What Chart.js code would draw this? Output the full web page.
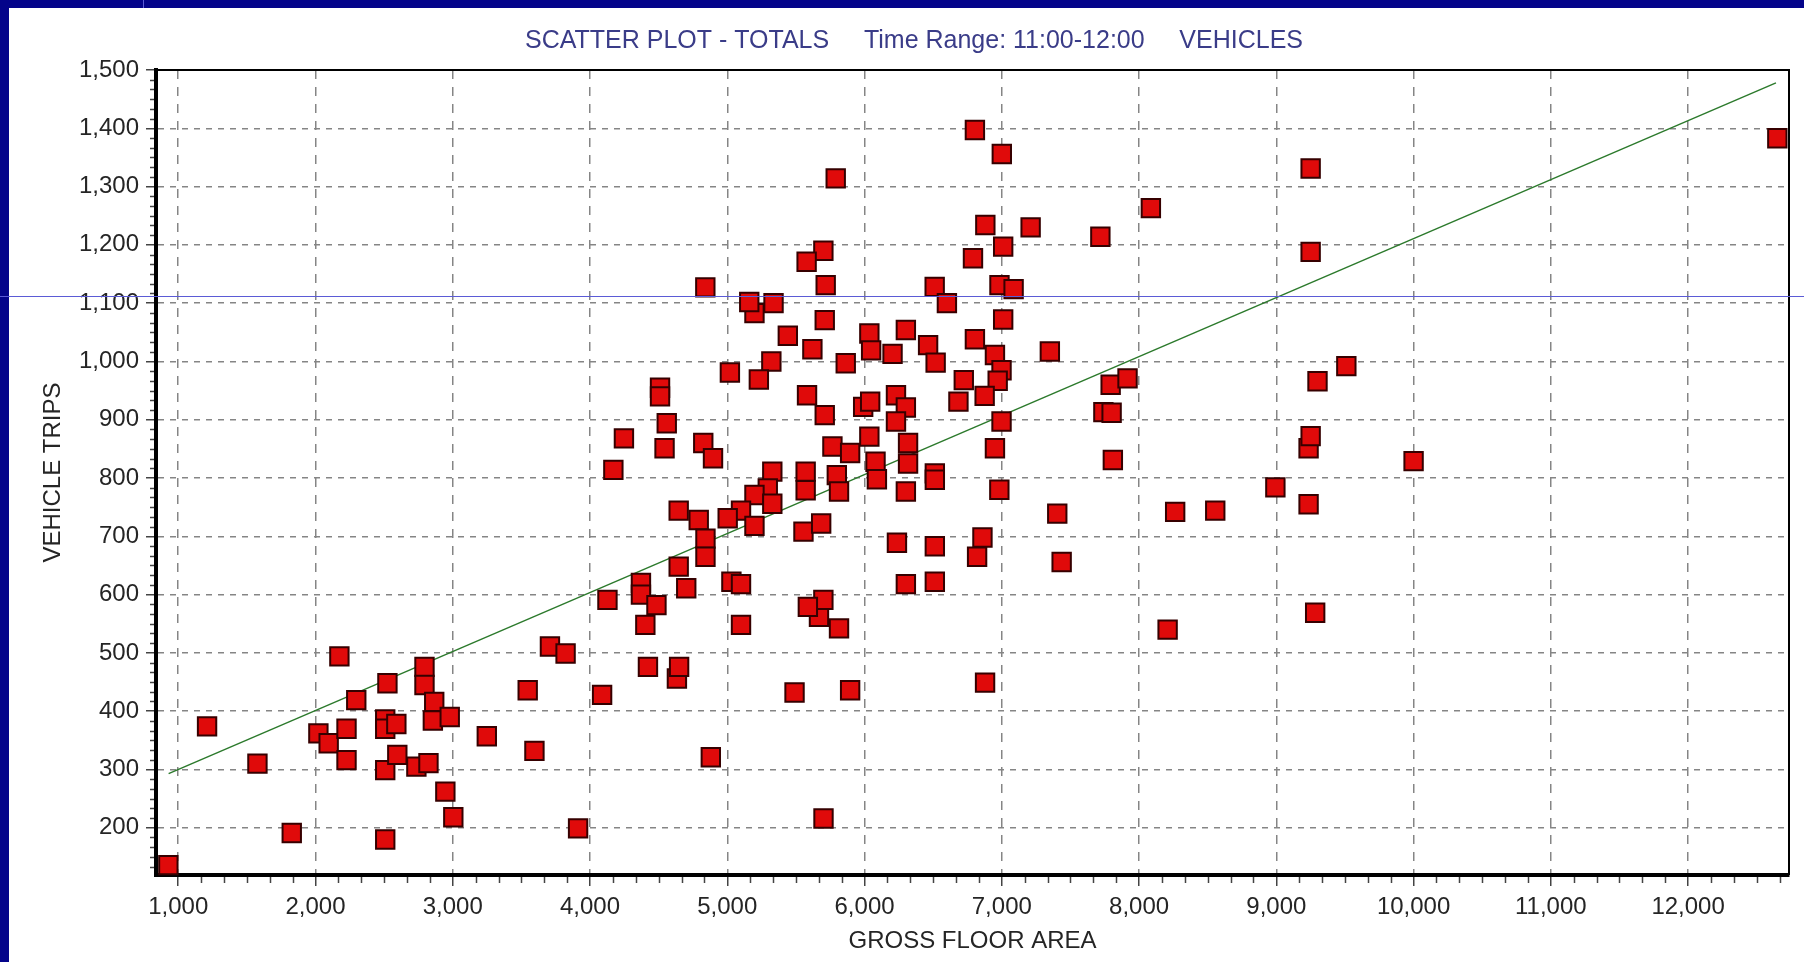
<!DOCTYPE html>
<html>
<head>
<meta charset="utf-8">
<script src="https://cdn.jsdelivr.net/npm/chart.js@4.4.0/dist/chart.umd.min.js"></script>
<style>
  html, body { margin: 0; padding: 0; background: #04048a; overflow: hidden; }
  .chart-box { position: relative; width: 1804px; height: 962px; }
</style>
</head>
<body>
<div class="chart-box"><canvas id="scatterChart"></canvas></div>
<script>
// * data
const grossFloorArea = [
  928, 1210, 1577, 1827, 2174, 2021, 2096, 2226, 2226, 2297,
  2524, 2508, 2508, 2589, 2508, 2596, 2508, 2735, 2823, 2794,
  2794, 2865, 2855, 2978, 2946, 3004, 3248, 3546, 3595, 3708,
  3822, 3913, 4088, 4422, 4633, 4649, 4403, 5100, 5814, 5668,
  8208, 5490, 5895, 6878, 4880, 5701, 5198, 5710, 5441, 6035,
  6301, 5620, 6048, 6204, 6463, 6518, 6804, 6950, 6998, 6970,
  7350, 5863, 5321, 5019, 5230, 6723, 6684, 6875, 4510, 4510,
  4559, 4247, 4543, 4825, 4896, 4170, 5581, 5710, 5990, 6041,
  6229, 6301, 6229, 7793, 7916, 7740, 7800, 6998, 6950, 7809,
  5766, 5895, 6035, 6080, 6090, 6317, 6317, 6512, 6512, 6301,
  6982, 5328, 5571, 5798, 5814, 5571, 5295, 5198, 5328, 5100,
  5003, 5198, 4646, 4792, 4841, 4841, 4646, 4701, 4371, 4371,
  4127, 4484, 5030, 5100, 5555, 5684, 6236, 6512, 6859, 6820,
  6301, 6512, 7404, 7436, 8263, 8555, 8993, 5700, 5587, 7010,
  6804, 7000, 5790, 8086, 6880, 7210, 7718, 7010, 6790, 4840,
  5160, 5337, 5700, 5578, 5717, 6511, 6600, 6983, 7086, 9250,
  9250, 12650, 9235, 9235, 9250, 9300, 9510, 10000, 9283
];
const vehicleTrips = [
  136, 374, 310, 191, 494, 362, 345, 370, 316, 419,
  448, 386, 370, 378, 299, 325, 180, 305, 311, 476,
  445, 416, 384, 390, 262, 218, 357, 436, 332, 511,
  499, 199, 428, 476, 456, 476, 548, 548, 542, 562,
  540, 432, 436, 449, 321, 216, 1083, 1071, 1044, 1048,
  1054, 1021, 1019, 1013, 1028, 998, 1038, 1011, 985, 967,
  1017, 997, 1000, 981, 969, 968, 931, 941, 955, 940,
  894, 868, 851, 860, 834, 814, 942, 908, 922, 931,
  942, 921, 897, 960, 971, 913, 912, 897, 851, 831,
  854, 843, 871, 828, 798, 860, 825, 808, 797, 777,
  780, 811, 811, 805, 777, 779, 782, 771, 756, 744,
  731, 718, 744, 728, 696, 665, 648, 611, 620, 600,
  591, 582, 622, 618, 708, 722, 689, 683, 698, 665,
  618, 622, 739, 656, 742, 744, 784, 591, 579, 1072,
  1397, 1356, 1314, 1263, 1234, 1230, 1214, 1197, 1177, 1127,
  1102, 1100, 1190, 1171, 1131, 1128, 1100, 1131, 1124, 1331,
  1188, 1383, 755, 851, 872, 966, 992, 829, 569
];
// ? fitted line end points
const trendX = [930, 12640];
const trendY = [293, 1478];

const xTicks = [1000, 2000, 3000, 4000, 5000, 6000, 7000, 8000, 9000, 10000, 11000, 12000];
const yTicks = [200, 300, 400, 500, 600, 700, 800, 900, 1000, 1100, 1200, 1300, 1400, 1500];

const titleText = "SCATTER PLOT - TOTALS     Time Range: 11:00-12:00     VEHICLES";

const points = grossFloorArea.map((x, i) => ({ x: x, y: vehicleTrips[i] }));
const trend = trendX.map((x, i) => ({ x: x, y: trendY[i] }));

const family = "'Liberation Sans', Arial, sans-serif";

// * navy slide frame, plot border, minor ticks
const framePlugin = {
  id: "frame",
  beforeDraw(chart) {
    const ctx = chart.ctx;
    ctx.save();
    ctx.fillStyle = "#04048a";
    ctx.fillRect(0, 0, chart.width, chart.height);
    ctx.fillStyle = "#ffffff";
    ctx.fillRect(9, 8, chart.width - 9, chart.height - 8);
    ctx.restore();
  },
  afterDraw(chart) {
    const ctx = chart.ctx;
    const a = chart.chartArea;
    const sx = chart.scales.x;
    const sy = chart.scales.y;
    ctx.save();
    ctx.strokeStyle = "#000000";
    ctx.lineWidth = 2;
    ctx.beginPath();
    ctx.moveTo(a.left, a.top);
    ctx.lineTo(a.right, a.top);
    ctx.lineTo(a.right, a.bottom);
    ctx.stroke();

    ctx.strokeStyle = "#444444";
    ctx.lineWidth = 1.5;
    ctx.beginPath();
    const xStep = 1000 / 6;
    for (let k = Math.ceil(sx.min / xStep); k * xStep <= sx.max; k++) {
      if (k % 6 === 0) continue;
      const px = Math.round(sx.getPixelForValue(k * xStep)) + 0.5;
      ctx.moveTo(px, a.bottom + 2);
      ctx.lineTo(px, a.bottom + 8);
    }
    const yStep = 100 / 6;
    for (let k = Math.ceil(sy.min / yStep); k * yStep <= sy.max; k++) {
      if (k % 6 === 0) continue;
      const py = Math.round(sy.getPixelForValue(k * yStep)) + 0.5;
      ctx.moveTo(a.left - 2, py);
      ctx.lineTo(a.left - 6, py);
    }
    ctx.stroke();

    // slide guide lines
    ctx.strokeStyle = "#5b5bd6";
    ctx.lineWidth = 1;
    ctx.beginPath();
    ctx.moveTo(0, 296.5);
    ctx.lineTo(chart.width, 296.5);
    ctx.moveTo(143.5, 0);
    ctx.lineTo(143.5, 8);
    ctx.stroke();
    ctx.restore();
  },
};

const scatterChart = new Chart(document.getElementById("scatterChart"), {
  type: "scatter",
  data: {
    datasets: [
      {
        label: "Vehicle trips",
        data: points,
        pointStyle: "rect",
        pointRadius: 13,
        pointHoverRadius: 13,
        backgroundColor: "#e00a0a",
        borderColor: "#360000",
        borderWidth: 2,
        clip: false,
      },
      {
        type: "line",
        label: "Fitted",
        data: trend,
        borderColor: "#2c7a2c",
        borderWidth: 1.5,
        pointRadius: 0,
        fill: false,
        clip: false,
      },
    ],
  },
  options: {
    responsive: true,
    maintainAspectRatio: false,
    animation: false,
    layout: { padding: { left: 35, top: 8, right: 11, bottom: 0 } },
    plugins: {
      legend: { display: false },
      tooltip: { enabled: false },
      title: {
        display: true,
        text: titleText,
        color: "#3a3c88",
        font: { family: family, size: 25, weight: "normal" },
        padding: { top: 18, bottom: 14 },
      },
    },
    scales: {
      x: {
        type: "linear",
        min: 838,
        max: 12735,
        afterBuildTicks: (s) => { s.ticks = xTicks.map((v) => ({ value: v })); },
        afterFit: (s) => { s.height = 87; },
        ticks: {
          color: "#252525",
          font: { family: family, size: 24 },
          padding: 7,
          maxRotation: 0,
          autoSkip: false,
          callback: (v) => v.toLocaleString("en-US"),
        },
        grid: { color: "#858585", lineWidth: 1.5, tickLength: 11, tickColor: "#444444", tickWidth: 1.5, tickBorderDash: [] },
        border: { display: true, color: "#000000", width: 4, dash: [9, 8] },
        title: {
          display: true,
          text: "GROSS FLOOR AREA",
          color: "#252525",
          font: { family: family, size: 24 },
          padding: { top: 0, bottom: 6 },
        },
      },
      y: {
        type: "linear",
        min: 119,
        max: 1500,
        afterBuildTicks: (s) => { s.ticks = yTicks.map((v) => ({ value: v })); },
        afterFit: (s) => { s.width = 121; },
        ticks: {
          color: "#252525",
          font: { family: family, size: 24 },
          padding: 7,
          autoSkip: false,
          callback: (v) => v.toLocaleString("en-US"),
        },
        grid: { color: "#858585", lineWidth: 1.5, tickLength: 10, tickColor: "#444444", tickWidth: 1.5, tickBorderDash: [] },
        border: { display: true, color: "#000000", width: 4, dash: [6, 6] },
        title: {
          display: true,
          text: "VEHICLE TRIPS",
          color: "#252525",
          font: { family: family, size: 24 },
          padding: { top: 4, bottom: 0 },
        },
      },
    },
  },
  plugins: [framePlugin],
});
</script>
</body>
</html>
